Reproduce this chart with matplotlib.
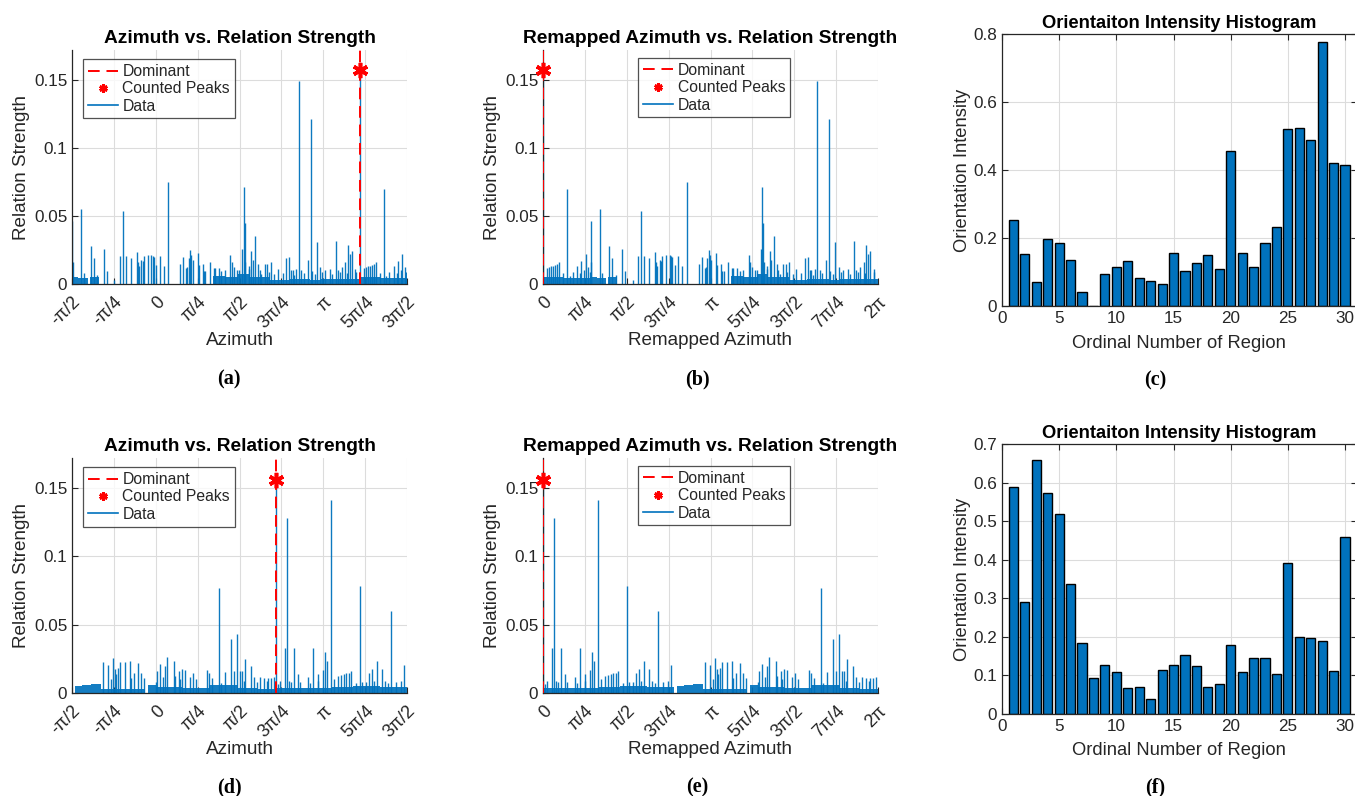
import numpy as np
import matplotlib
matplotlib.use("Agg")
import matplotlib.pyplot as plt
from matplotlib.lines import Line2D
from matplotlib.ticker import FuncFormatter

# ---------------- data ----------------
# Top row: azimuth (rad) / relation strength spikes
top_azimuth = [-1.565, -1.552, -1.396, -1.352, -1.221, -1.158, -1.096, -0.977, -0.921, -0.777,
               -0.677, -0.621, -0.558, -0.465, -0.352, -0.333, -0.315, -0.271, -0.246, -0.221,
               -0.146, -0.083, -0.058, -0.033, 0.010, 0.079, 0.154, 0.235, 0.460, 0.517,
               0.573, 0.592, 0.617, 0.648, 0.667, 0.692, 0.792, 0.804, 0.879, 0.904,
               0.929, 1.010, 1.085, 1.110, 1.179, 1.229, 1.292, 1.398, 1.429, 1.467,
               1.523, 1.561, 1.623, 1.648, 1.667, 1.680, 1.742, 1.750, 1.792, 1.823,
               1.867, 1.923, 1.950, 1.980, 2.048, 2.092, 2.120, 2.155, 2.220, 2.292,
               2.380, 2.448, 2.504, 2.542, 2.573, 2.600, 2.636, 2.680, 2.730, 2.780,
               2.855, 2.905, 2.930, 2.980, 3.023, 3.086, 3.120, 3.167, 3.261, 3.300,
               3.373, 3.417, 3.450, 3.486, 3.555, 3.580, 3.605, 3.642, 3.680, 3.742,
               3.750, 3.823, 3.905, 3.936, 3.980, 4.017, 4.055, 4.092, 4.123, 4.198,
               4.280, 4.323, 4.380, 4.467, 4.520, 4.542, 4.600, 4.623, 4.667, 4.700]
top_strength = [0.046, 0.016, 0.055, 0.008, 0.028, 0.019, 0.0066, 0.026, 0.0096, 0.003,
                0.0206, 0.054, 0.0206, 0.019, 0.0235, 0.016, 0.013, 0.0176, 0.017, 0.0206,
                0.0216, 0.021, 0.0206, 0.020, 0.014, 0.0206, 0.013, 0.075, 0.015, 0.020,
                0.012, 0.0127, 0.019, 0.025, 0.021, 0.0176, 0.0228, 0.014, 0.015, 0.0096,
                0.0096, 0.016, 0.0115, 0.012, 0.012, 0.0096, 0.010, 0.021, 0.016, 0.0127,
                0.010, 0.010, 0.026, 0.071, 0.045, 0.016, 0.013, 0.011, 0.024, 0.018,
                0.035, 0.015, 0.010, 0.0074, 0.0145, 0.015, 0.009, 0.016, 0.007, 0.011,
                0.008, 0.019, 0.020, 0.010, 0.010, 0.0065, 0.011, 0.149, 0.010, 0.008,
                0.018, 0.121, 0.0098, 0.007, 0.031, 0.0127, 0.0085, 0.010, 0.011, 0.0075,
                0.0316, 0.010, 0.009, 0.0127, 0.016, 0.008, 0.0287, 0.022, 0.024, 0.0108,
                0.009, 0.157, 0.0115, 0.0127, 0.013, 0.0135, 0.014, 0.0147, 0.016, 0.0078,
                0.0696, 0.006, 0.009, 0.013, 0.008, 0.0167, 0.010, 0.0218, 0.0127, 0.0085]
# dense low-level band (segment edges and levels)
top_floor_edges = [-1.571, -1.45, -1.27, -1.24, -1.07, 1.07, 1.30, 1.55, 1.75, 2.15,
                   2.50, 2.90, 3.10, 3.50, 3.823, 4.20, 4.712]
top_floor_levels = [0.005, 0.0045, 0.0, 0.0055, 0.0, 0.006, 0.0055, 0.007, 0.005, 0.003,
                    0.0035, 0.003, 0.004, 0.0035, 0.005, 0.0045]
top_dominant = 3.823
top_peak = 0.157

# Bottom row
bot_azimuth = [-0.990, -0.896, -0.834, -0.796, -0.771, -0.740, -0.708, -0.665, -0.571, -0.490,
               -0.471, -0.415, -0.333, -0.271, -0.227, -0.002, 0.029, 0.073, 0.135, 0.179,
               0.217, 0.342, 0.367, 0.429, 0.460, 0.498, 0.554, 0.635, 0.698, 0.748,
               0.967, 0.998, 1.060, 1.179, 1.217, 1.304, 1.416, 1.460, 1.529, 1.573,
               1.617, 1.650, 1.680, 1.792, 1.836, 1.900, 1.948, 2.023, 2.080, 2.105,
               2.167, 2.211, 2.254, 2.300, 2.323, 2.430, 2.461, 2.500, 2.542, 2.592,
               2.667, 2.700, 2.855, 2.900, 2.948, 3.042, 3.050, 3.136, 3.173, 3.217,
               3.292, 3.350, 3.417, 3.480, 3.530, 3.573, 3.623, 3.667, 3.750, 3.823,
               3.867, 3.950, 3.992, 4.055, 4.100, 4.155, 4.248, 4.300, 4.355, 4.417,
               4.500, 4.600, 4.655]
bot_strength = [0.0224, 0.0205, 0.010, 0.0256, 0.0175, 0.014, 0.018, 0.0226, 0.0226, 0.0234,
                0.0107, 0.0146, 0.0219, 0.0144, 0.0107, 0.0083, 0.016, 0.021, 0.012, 0.0195,
                0.026, 0.0234, 0.0127, 0.016, 0.010, 0.0173, 0.0168, 0.012, 0.0146, 0.010,
                0.017, 0.015, 0.0107, 0.0767, 0.0073, 0.0156, 0.0394, 0.016, 0.043, 0.016,
                0.016, 0.009, 0.025, 0.0195, 0.012, 0.008, 0.0115, 0.0107, 0.0085, 0.011,
                0.011, 0.012, 0.156, 0.0065, 0.009, 0.033, 0.128, 0.009, 0.008, 0.0326,
                0.014, 0.008, 0.0115, 0.0075, 0.0326, 0.014, 0.009, 0.017, 0.030, 0.0236,
                0.141, 0.010, 0.0127, 0.013, 0.014, 0.0144, 0.015, 0.016, 0.0075, 0.078,
                0.0083, 0.008, 0.0146, 0.0175, 0.0085, 0.0234, 0.0175, 0.009, 0.0073, 0.0597,
                0.008, 0.009, 0.0205]
bot_floor_edges = [-1.508, -1.38, -1.22, -1.02, -0.20, -0.146, 0.0, 0.50, 1.0, 1.54,
                   1.90, 2.254, 2.80, 3.30, 3.70, 4.20, 4.712]
bot_floor_levels = [0.005, 0.006, 0.0065, 0.003, 0.0, 0.006, 0.0045, 0.004, 0.0055, 0.0035,
                    0.003, 0.0035, 0.004, 0.0045, 0.005, 0.0045]
bot_dominant = 2.254
bot_peak = 0.156

# Histograms
regions = list(range(1, 31))
hist_top = [0.252, 0.153, 0.0707, 0.198, 0.1865, 0.1345, 0.040, 0.0, 0.094, 0.115,
            0.1325, 0.0815, 0.0736, 0.065, 0.155, 0.104, 0.1266, 0.149, 0.109, 0.4564,
            0.156, 0.114, 0.1855, 0.2317, 0.522, 0.523, 0.489, 0.777, 0.420, 0.414]
hist_bot = [0.588, 0.290, 0.658, 0.573, 0.518, 0.337, 0.184, 0.0935, 0.128, 0.110,
            0.0675, 0.070, 0.038, 0.114, 0.128, 0.152, 0.124, 0.070, 0.077, 0.178,
            0.109, 0.145, 0.145, 0.103, 0.392, 0.200, 0.196, 0.1895, 0.1116, 0.4586]

az_ticklabels = ['-π/2', '-π/4', '0', 'π/4', 'π/2', '3π/4', 'π', '5π/4', '3π/2']
rm_ticklabels = ['0', 'π/4', 'π/2', '3π/4', 'π', '5π/4', '3π/2', '7π/4', '2π']

# ---------------- style ----------------
BLUE = '#0072BD'
TXT = '#262626'
FONT = 'Liberation Sans'
plt.rcParams['font.family'] = [FONT, 'DejaVu Sans']

W, H = 1355, 796
fig = plt.figure(figsize=(W / 100, H / 100), dpi=100)


def px_axes(left, top, right, bottom):
    return fig.add_axes([left / W, 1 - bottom / H, (right - left) / W, (bottom - top) / H])


def style(ax, box=True):
    ax.grid(True, color='#dcdcdc', lw=0.8)
    ax.set_axisbelow(True)
    for s in ax.spines.values():
        s.set_color(TXT)
        s.set_linewidth(0.9)
    if not box:
        ax.spines['top'].set_visible(False)
        ax.spines['right'].set_visible(False)
    ax.tick_params(direction='in', top=box, right=box, length=4, width=0.8,
                   colors=TXT, labelsize=12.3)


def draw_strength(ax, az, val, edges, levels, dom, peak, remap, xlabel, legend_loc):
    az = np.asarray(az, float)
    val = np.asarray(val, float)
    starts = np.asarray(edges[:-1], float)
    widths = np.diff(np.asarray(edges, float))
    lv = np.asarray(levels, float)
    if remap:
        two_pi = 2 * np.pi
        az = np.mod(az - dom, two_pi)
        starts = np.mod(starts - dom + 1e-9, two_pi) - 1e-9
        dom_x = 0.0
        ax.set_xlim(0, two_pi)
        ticks = np.arange(0, 9) * np.pi / 4
        labels = rm_ticklabels
    else:
        dom_x = dom
        ax.set_xlim(-np.pi / 2, 3 * np.pi / 2)
        ticks = np.arange(-2, 7) * np.pi / 4
        labels = az_ticklabels
    ax.bar(starts, lv, width=widths, align='edge', color=BLUE, lw=0, alpha=0.92)
    ax.vlines(az, 0, val, colors=BLUE, lw=1.0, alpha=0.95)
    ax.axvline(dom_x, color='red', ls=(0, (6, 3.5)), lw=1.4, zorder=5)
    ax.plot([dom_x], [peak], marker=(6, 2, 0), ms=11, mew=2.6, color='red',
            clip_on=False, zorder=6, ls='none')
    ax.set_ylim(0, 0.172)
    ax.set_yticks([0, 0.05, 0.1, 0.15])
    ax.yaxis.set_major_formatter(FuncFormatter(lambda v, p: '%g' % round(v, 4)))
    ax.set_xticks(ticks)
    ax.set_xticklabels(labels, rotation=45, ha='right', va='top', rotation_mode='anchor')
    style(ax, box=False)
    ax.tick_params(axis='x', pad=7, labelsize=13)
    ax.set_ylabel('Relation Strength', fontsize=13.6, color=TXT)
    ax.yaxis.set_label_coords(-0.125, 0.5)
    ax.set_xlabel(xlabel, fontsize=13.6, color=TXT)
    ax.xaxis.set_label_coords(0.5, -0.205)
    handles = [Line2D([], [], color='red', ls=(0, (6, 3.5)), lw=1.4),
               Line2D([], [], color='red', marker=(6, 2, 0), ms=6, mew=2, ls='none'),
               Line2D([], [], color=BLUE, lw=1.2)]
    leg = ax.legend(handles, ['Dominant', 'Counted Peaks', 'Data'], loc='upper left',
                    bbox_to_anchor=legend_loc, fontsize=11.3, frameon=True, fancybox=False,
                    borderpad=0.3, labelspacing=0.15, handlelength=1.9, handletextpad=0.3,
                    borderaxespad=0)
    leg.get_frame().set_edgecolor(TXT)
    leg.get_frame().set_linewidth(0.9)
    for t in leg.get_texts():
        t.set_color(TXT)


def draw_hist(ax, vals, ymax, yticks):
    ax.bar(regions, vals, width=0.8, color=BLUE, edgecolor='black', lw=1.0)
    ax.set_xlim(0, 31)
    ax.set_ylim(0, ymax)
    ax.set_xticks([0, 5, 10, 15, 20, 25, 30])
    ax.set_yticks(yticks)
    ax.yaxis.set_major_formatter(FuncFormatter(lambda v, p: '%g' % round(v, 4)))
    style(ax)
    ax.set_ylabel('Orientation Intensity', fontsize=13.2, color=TXT)
    ax.yaxis.set_label_coords(-0.087, 0.5)
    ax.set_xlabel('Ordinal Number of Region', fontsize=13.2, color=TXT)
    ax.xaxis.set_label_coords(0.5, -0.105)
    ax.set_title('Orientaiton Intensity Histogram', fontsize=13.2, fontweight='bold',
                 color='black', pad=4)


# axes positions (pixels)
ax_a = px_axes(72, 50, 407, 284)
ax_b = px_axes(543, 50, 878, 284)
ax_c = px_axes(1002, 34, 1356.5, 306)
ax_d = px_axes(72, 458, 407, 693)
ax_e = px_axes(543, 458, 878, 693)
ax_f = px_axes(1002, 444, 1356.5, 714)

lg_left = (0.033, 0.96)
lg_mid = (0.285, 0.965)

draw_strength(ax_a, top_azimuth, top_strength, top_floor_edges, top_floor_levels,
              top_dominant, top_peak, False, 'Azimuth', lg_left)
ax_a.set_title('Azimuth vs. Relation Strength', fontsize=13.8, fontweight='bold', pad=5)
draw_strength(ax_b, top_azimuth, top_strength, top_floor_edges, top_floor_levels,
              top_dominant, top_peak, True, 'Remapped Azimuth', lg_mid)
ax_b.set_title('Remapped Azimuth vs. Relation Strength', fontsize=13.8, fontweight='bold', pad=5)
draw_strength(ax_d, bot_azimuth, bot_strength, bot_floor_edges, bot_floor_levels,
              bot_dominant, bot_peak, False, 'Azimuth', lg_left)
ax_d.set_title('Azimuth vs. Relation Strength', fontsize=13.8, fontweight='bold', pad=5)
draw_strength(ax_e, bot_azimuth, bot_strength, bot_floor_edges, bot_floor_levels,
              bot_dominant, bot_peak, True, 'Remapped Azimuth', lg_mid)
ax_e.set_title('Remapped Azimuth vs. Relation Strength', fontsize=13.8, fontweight='bold', pad=5)

draw_hist(ax_c, hist_top, 0.8, [0, 0.2, 0.4, 0.6, 0.8])
draw_hist(ax_f, hist_bot, 0.7, [0, 0.1, 0.2, 0.3, 0.4, 0.5, 0.6, 0.7])

# sub-figure captions
caps = [('a', 229, 379), ('b', 697, 379), ('c', 1155, 380),
        ('d', 229, 787), ('e', 697, 787), ('f', 1155, 787)]
for letter, cx, cy in caps:
    fig.text(cx / W, 1 - cy / H, '(' + letter + ')', ha='center', va='center',
             fontsize=14.5, fontweight='bold', family=['Liberation Serif', 'DejaVu Serif'])

fig.savefig('out.png', dpi=100)
